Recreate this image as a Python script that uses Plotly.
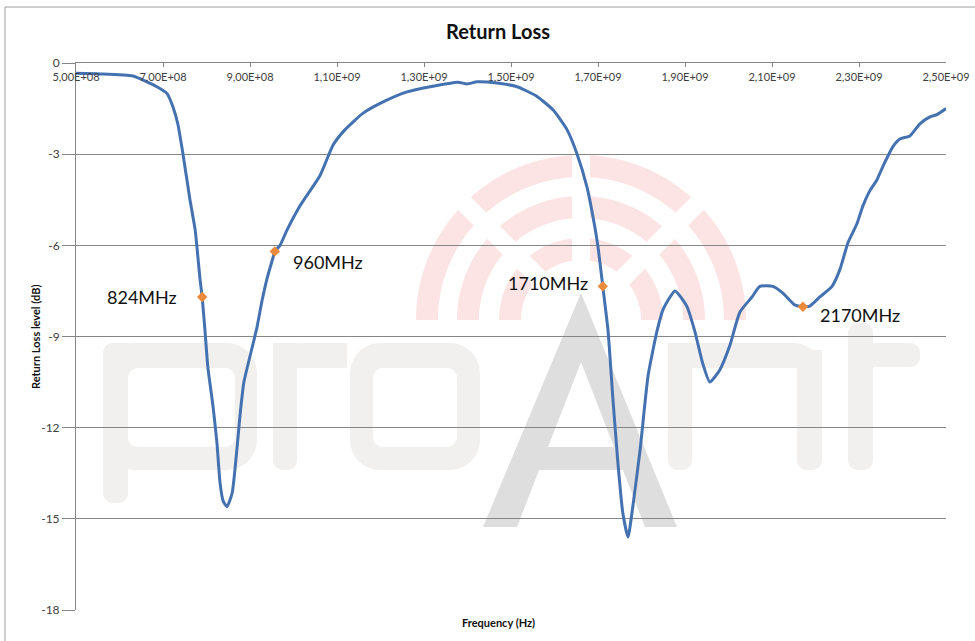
import numpy as np
import plotly.graph_objects as go

# ---------------- data ----------------
freq_mhz = [500, 555, 631, 663, 686, 709, 723, 734, 746, 762, 774, 785, 790, 797, 803,
            815, 824, 831, 838, 847, 859, 870, 877, 886, 906, 916, 928, 939, 953,
            957, 969, 985, 1015, 1061, 1091, 1118, 1160, 1206, 1261, 1314, 1378,
            1399, 1422, 1468, 1514, 1560, 1597, 1629, 1652, 1675, 1689, 1700, 1711,
            1723, 1734, 1746, 1757, 1769, 1780, 1797, 1815, 1836, 1850, 1877, 1904,
            1922, 1941, 1957, 1980, 2003, 2026, 2054, 2072, 2102, 2125, 2152, 2171,
            2187, 2210, 2238, 2256, 2275, 2295, 2309, 2325, 2341, 2355, 2378, 2394,
            2417, 2440, 2463, 2479, 2500]
return_loss_db = [-0.34, -0.36, -0.43, -0.62, -0.78, -1.0, -1.45, -2.0, -3.0, -4.5, -5.5,
                  -7.1, -7.7, -8.9, -10.0, -11.3, -12.5, -13.8, -14.4, -14.6, -14.15,
                  -12.7, -11.6, -10.5, -9.3, -8.7, -7.8, -7.1, -6.4, -6.2, -6.0, -5.5,
                  -4.7, -3.7, -2.7, -2.2, -1.65, -1.28, -0.95, -0.78, -0.63, -0.69,
                  -0.62, -0.66, -0.78, -1.1, -1.55, -2.2, -3.0, -4.1, -5.1, -6.05,
                  -7.35, -8.8, -11.0, -13.2, -14.8, -15.6, -14.6, -12.7, -10.3, -8.8,
                  -8.1, -7.5, -8.0, -8.8, -9.9, -10.5, -10.1, -9.3, -8.2, -7.7, -7.35,
                  -7.35, -7.57, -7.96, -8.02, -8.0, -7.7, -7.35, -6.8, -5.9, -5.3,
                  -4.7, -4.2, -3.85, -3.4, -2.75, -2.5, -2.4, -2.0, -1.77, -1.7, -1.5]

marker_freq_mhz = [790, 957, 1711, 2171]
marker_db = [-7.7, -6.2, -7.35, -8.02]
marker_labels = ["824MHz", "960MHz", "1710MHz", "2170MHz"]

x_tick_vals = [5e8, 7e8, 9e8, 1.1e9, 1.3e9, 1.5e9, 1.7e9, 1.9e9, 2.1e9, 2.3e9, 2.5e9]
x_tick_text = ["5,00E+08", "7,00E+08", "9,00E+08", "1,10E+09", "1,30E+09", "1,50E+09",
               "1,70E+09", "1,90E+09", "2,10E+09", "2,30E+09", "2,50E+09"]
y_tick_vals = [0, -3, -6, -9, -12, -15, -18]
y_tick_text = ["0", "-3", "-6", "-9", "-12", "-15", "-18"]

# ---------------- layout geometry ----------------
W, H = 975, 641
ML, MR, MT, MB = 76, 29, 63, 31
PW, PH = W - ML - MR, H - MT - MB
FONT = "Lato"


def P(x, y):
    """pixel -> paper coordinates"""
    return (x - ML) / PW, (H - MB - y) / PH


def to_path(subpaths):
    s = ""
    for pts in subpaths:
        for i, (x, y) in enumerate(pts):
            px, py = P(x, y)
            s += ("M" if i == 0 else "L") + f"{px:.5f},{py:.5f} "
        s += "Z "
    return s


def rrect(x0, y0, x1, y1, r, corners=(1, 1, 1, 1)):
    pts = []
    def arc(cx, cy, a0, a1, rr):
        for a in np.linspace(a0, a1, 8):
            pts.append((cx + rr * np.cos(a), cy + rr * np.sin(a)))
    rt = r if corners[0] else 0
    arc(x0 + rt, y0 + rt, np.pi, 1.5 * np.pi, rt)
    rt = r if corners[1] else 0
    arc(x1 - rt, y0 + rt, 1.5 * np.pi, 2 * np.pi, rt)
    rt = r if corners[2] else 0
    arc(x1 - rt, y1 - rt, 0, 0.5 * np.pi, rt)
    rt = r if corners[3] else 0
    arc(x0 + rt, y1 - rt, 0.5 * np.pi, np.pi, rt)
    return pts


def sector(cx, cy, r0, r1, a0, a1, h):
    d0 = np.arcsin(h / r0)
    d1 = np.arcsin(h / r1)
    pts = []
    for a in np.linspace(a0[0] + (d1 if a0[1] else 0), a1[0] - (d1 if a1[1] else 0), 30):
        pts.append((cx + r1 * np.cos(a), cy - r1 * np.sin(a)))
    for a in np.linspace(a1[0] - (d0 if a1[1] else 0), a0[0] + (d0 if a0[1] else 0), 30):
        pts.append((cx + r0 * np.cos(a), cy - r0 * np.sin(a)))
    return pts


shapes = []
LETTER = "#f1f0ee"
ACOL = "#dedede"
PINK = "#fde4e4"

# arcs of the watermark logo
cx, cy = 581, 320
bounds = [(0, False), (np.pi / 4, True), (np.pi / 2, True), (3 * np.pi / 4, True), (np.pi, False)]
for r0, r1 in [(60, 82), (102, 124), (143, 165)]:
    for k in range(4):
        shapes.append(dict(type="path", xref="paper", yref="paper", layer="below",
                           path=to_path([sector(cx, cy, r0, r1, bounds[k], bounds[k + 1], 9)]),
                           fillcolor=PINK, line=dict(width=0)))

# letters p r o n t
letter_paths = []
letter_paths.append([rrect(103, 343, 257, 470, 30), rrect(128, 368, 235, 447, 10)[::-1]])
letter_paths.append([rrect(103, 343, 128, 503, 10, (1, 0, 1, 1))])
letter_paths.append([rrect(273, 343, 297, 470, 10, (0, 0, 1, 1))])
letter_paths.append([rrect(273, 343, 347, 368, 28, (1, 0, 0, 0))])
letter_paths.append([rrect(350, 343, 480, 470, 30), rrect(373, 368, 457, 447, 10)[::-1]])
letter_paths.append([rrect(668, 343, 822, 368, 28, (0, 1, 0, 0))])
letter_paths.append([rrect(668, 343, 692, 470, 10, (0, 0, 1, 1))])
letter_paths.append([rrect(797, 350, 822, 470, 10, (0, 0, 1, 1))])
letter_paths.append([rrect(848, 323, 873, 470, 10, (1, 1, 1, 1))])
letter_paths.append([rrect(848, 343, 920, 367, 10, (0, 1, 1, 0))])
for sp in letter_paths:
    shapes.append(dict(type="path", xref="paper", yref="paper", layer="below",
                       path=to_path(sp), fillcolor=LETTER, line=dict(width=0)))

# the "A"
outer = [(581, 293), (677, 527), (645, 527), (581, 362), (517, 527), (483, 527)]
shapes.append(dict(type="path", xref="paper", yref="paper", layer="below",
                   path=to_path([outer]), fillcolor=ACOL, line=dict(width=0)))
bar = [(543, 447), (619, 447), (628, 470), (534, 470)]
shapes.append(dict(type="path", xref="paper", yref="paper", layer="below",
                   path=to_path([bar]), fillcolor=ACOL, line=dict(width=0)))

# chart-area border
bx0, by0 = P(5, 7)
bx1, by1 = P(985, 650)
shapes.append(dict(type="rect", xref="paper", yref="paper", layer="below",
                   x0=bx0, y0=by1, x1=bx1, y1=by0,
                   line=dict(color="#a0a0a0", width=1), fillcolor="rgba(0,0,0,0)"))

# ---------------- figure ----------------
fig = go.Figure()
fig.add_trace(go.Scatter(
    x=[f * 1e6 for f in freq_mhz], y=return_loss_db, mode="lines",
    line=dict(color="#4472b0", width=3, shape="spline", smoothing=0.5),
    showlegend=False, hoverinfo="skip"))
fig.add_trace(go.Scatter(
    x=[f * 1e6 for f in marker_freq_mhz], y=marker_db, mode="markers",
    marker=dict(symbol="diamond", size=8, color="#ec8a3c"),
    showlegend=False, hoverinfo="skip"))

label_offsets = [("right", -23, 0), ("left", 16, -11), ("right", -13, 3), ("left", 15, -8)]
annotations = []
for f, v, t, (anc, dx, dy) in zip(marker_freq_mhz, marker_db, marker_labels, label_offsets):
    annotations.append(dict(x=f * 1e6, y=v, xref="x", yref="y", text=t, showarrow=False,
                            xanchor=anc, yanchor="middle", xshift=dx, yshift=dy,
                            font=dict(family=FONT, size=18, color="#111111")))

fx, fy = P(498, 622)
annotations.append(dict(x=fx, y=fy, xref="paper", yref="paper", text="<b>Frequency (Hz)</b>",
                        showarrow=False, xanchor="center", yanchor="middle",
                        font=dict(family=FONT, size=11, color="#111111")))
tx, ty = P(35, 337)
annotations.append(dict(x=tx, y=ty, xref="paper", yref="paper",
                        text="<b>Return Loss level (dB)</b>", textangle=-90,
                        showarrow=False, xanchor="center", yanchor="middle",
                        font=dict(family=FONT, size=11, color="#111111")))

fig.update_layout(
    width=W, height=H,
    margin=dict(l=ML, r=MR, t=MT, b=MB, autoexpand=False),
    paper_bgcolor="white", plot_bgcolor="white",
    title=dict(text="<b>Return Loss</b>", x=498 / W, xanchor="center", xref="container",
               y=1 - 32 / H, yref="container", yanchor="middle",
               font=dict(family=FONT, size=20, color="#111111")),
    xaxis=dict(range=[5e8, 2.5e9], side="top", tickvals=x_tick_vals, ticktext=x_tick_text,
               ticklabelposition="inside", ticklabeloverflow="allow", ticklabelstandoff=6,
               ticks="inside", ticklen=4, tickcolor="#868686",
               showline=True, linecolor="#868686", linewidth=1, showgrid=False, zeroline=False,
               tickfont=dict(family=FONT, size=11, color="#404040")),
    yaxis=dict(range=[-18, 0], tickvals=y_tick_vals, ticktext=y_tick_text,
               ticks="outside", ticklen=13,
               tickcolor="#868686", showline=True, linecolor="#868686", linewidth=1,
               showgrid=True, gridcolor="#868686", gridwidth=1, zeroline=False,
               ticklabeloverflow="allow",
               tickfont=dict(family=FONT, size=12, color="#404040")),
    shapes=shapes,
    annotations=annotations,
)

fig.write_html("out.html", post_script="document.body.style.margin='0';",
               config={"displayModeBar": False})
